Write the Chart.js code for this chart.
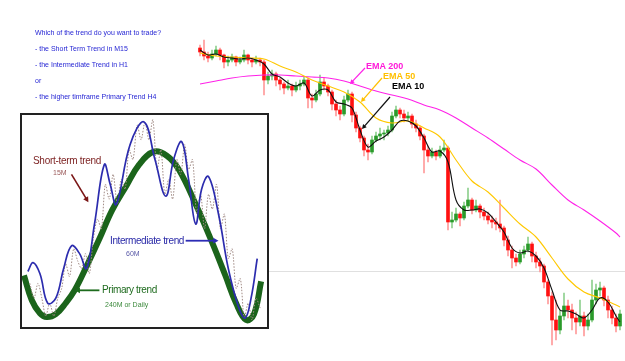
<!DOCTYPE html>
<html>
<head>
<meta charset="utf-8">
<script src="https://cdn.jsdelivr.net/npm/chart.js@4.4.1/dist/chart.umd.min.js"></script>
<style>
  html, body { margin: 0; padding: 0; background: #fff; }
  body { width: 625px; height: 361px; position: relative; overflow: hidden; font-family: "Liberation Sans", Arial, sans-serif; }
  #price { position: absolute; left: 0; top: 0; }
  #box { position: absolute; left: 20px; top: 113px; width: 245px; height: 212px; border: 2px solid #222; background: #fff; }
  .t { position: absolute; white-space: nowrap; line-height: 1; }
  .q { font-size: 7px; color: #2626d4; left: 35px; }
  .ema { font-size: 9px; font-weight: bold; }
</style>
</head>
<body>
<canvas id="price" width="625" height="361"></canvas>
<div id="box"><canvas id="waves" width="245" height="212"></canvas></div>

<!-- question text -->
<div class="t q" style="top:29px">Which of the trend do you want to trade?</div>
<div class="t q" style="top:45px">- the Short Term Trend in M15</div>
<div class="t q" style="top:61px">- the Intermediate Trend in H1</div>
<div class="t q" style="top:77px">or</div>
<div class="t q" style="top:93px">- the higher timframe Primary Trend H4</div>

<!-- EMA labels -->
<div class="t ema" style="left:366px;top:62px;color:#ff1ad9">EMA 200</div>
<div class="t ema" style="left:383px;top:72px;color:#ffc000">EMA 50</div>
<div class="t ema" style="left:392px;top:82px;color:#000">EMA 10</div>

<!-- diagram labels -->
<div class="t" style="left:33px;top:156px;font-size:10px;letter-spacing:-0.3px;color:#7b1f1f">Short-term trend</div>
<div class="t" style="left:53px;top:169px;font-size:7px;color:#9b5a5a">15M</div>
<div class="t" style="left:110px;top:236px;font-size:10px;letter-spacing:-0.4px;color:#2a2aa8">Intermediate trend</div>
<div class="t" style="left:126px;top:250px;font-size:7px;color:#5a5aa8">60M</div>
<div class="t" style="left:102px;top:285px;font-size:10px;letter-spacing:-0.4px;color:#1f6b1f">Primary trend</div>
<div class="t" style="left:105px;top:301px;font-size:7px;color:#3d8a3d">240M or Daily</div>

<script>
// ---- candles (price) ----
const openP = [1.2952,1.2948,1.2944,1.2942,1.2946,1.2950,1.2945,1.2938,1.2940,1.2943,
  1.2938,1.2940,1.2945,1.2940,1.2938,1.2940,1.2938,1.2920,1.2924,1.2926,
  1.2920,1.2916,1.2912,1.2914,1.2910,1.2914,1.2916,1.2920,1.2902,1.2900,
  1.2906,1.2918,1.2914,1.2908,1.2896,1.2890,1.2886,1.2900,1.2906,1.2885,
  1.2872,1.2862,1.2850,1.2848,1.2860,1.2864,1.2866,1.2867,1.2870,1.2884,
  1.2890,1.2886,1.2882,1.2884,1.2876,1.2872,1.2864,1.2850,1.2844,1.2848,
  1.2844,1.2850,1.2852,1.2778,1.2780,1.2786,1.2782,1.2794,1.2800,1.2790,
  1.2794,1.2788,1.2784,1.2780,1.2778,1.2776,1.2772,1.2760,1.2750,1.2742,
  1.2738,1.2746,1.2750,1.2756,1.2744,1.2738,1.2734,1.2718,1.2704,1.2680,
  1.2670,1.2684,1.2694,1.2690,1.2682,1.2678,1.2684,1.2674,1.2680,1.2700,
  1.2710,1.2712,1.2700,1.2690,1.2682,1.2674];
const highP = [1.2955,1.2960,1.2948,1.2950,1.2954,1.2952,1.2946,1.2944,1.2946,1.2944,
  1.2943,1.2950,1.2946,1.2942,1.2944,1.2942,1.2940,1.2928,1.2930,1.2928,
  1.2922,1.2918,1.2920,1.2916,1.2918,1.2920,1.2923,1.2922,1.2906,1.2910,
  1.2925,1.2922,1.2916,1.2910,1.2900,1.2894,1.2904,1.2910,1.2908,1.2888,
  1.2874,1.2864,1.2856,1.2864,1.2868,1.2872,1.2870,1.2874,1.2888,1.2894,
  1.2892,1.2890,1.2888,1.2886,1.2880,1.2874,1.2866,1.2854,1.2852,1.2850,
  1.2854,1.2860,1.2854,1.2788,1.2792,1.2788,1.2798,1.2812,1.2802,1.2800,
  1.2796,1.2792,1.2788,1.2784,1.2782,1.2800,1.2774,1.2764,1.2754,1.2746,
  1.2750,1.2754,1.2763,1.2758,1.2748,1.2742,1.2736,1.2720,1.2708,1.2700,
  1.2690,1.2707,1.2700,1.2696,1.2688,1.2700,1.2688,1.2686,1.2720,1.2716,
  1.2718,1.2714,1.2704,1.2694,1.2686,1.2690];
const lowP = [1.2944,1.2940,1.2938,1.2940,1.2944,1.2940,1.2932,1.2934,1.2938,1.2934,
  1.2936,1.2938,1.2936,1.2933,1.2936,1.2934,1.2905,1.2916,1.2920,1.2914,
  1.2910,1.2906,1.2910,1.2904,1.2908,1.2910,1.2914,1.2892,1.2892,1.2898,
  1.2904,1.2910,1.2904,1.2890,1.2884,1.2880,1.2884,1.2898,1.2878,1.2868,
  1.2858,1.2844,1.2840,1.2846,1.2858,1.2860,1.2860,1.2864,1.2868,1.2882,
  1.2882,1.2878,1.2880,1.2872,1.2868,1.2860,1.2827,1.2838,1.2842,1.2840,
  1.2842,1.2848,1.2770,1.2772,1.2778,1.2774,1.2780,1.2792,1.2786,1.2788,
  1.2782,1.2780,1.2776,1.2772,1.2770,1.2768,1.2754,1.2744,1.2732,1.2734,
  1.2736,1.2742,1.2748,1.2738,1.2732,1.2728,1.2712,1.2696,1.2655,1.2660,
  1.2666,1.2680,1.2682,1.2670,1.2666,1.2674,1.2664,1.2670,1.2678,1.2696,
  1.2704,1.2694,1.2682,1.2676,1.2668,1.2670];
const closeP = [1.2948,1.2944,1.2942,1.2946,1.2950,1.2945,1.2938,1.2940,1.2943,1.2938,
  1.2940,1.2945,1.2940,1.2938,1.2940,1.2938,1.2920,1.2924,1.2926,1.2920,
  1.2916,1.2912,1.2914,1.2910,1.2914,1.2916,1.2920,1.2902,1.2900,1.2906,
  1.2918,1.2914,1.2908,1.2896,1.2890,1.2886,1.2900,1.2906,1.2885,1.2872,
  1.2862,1.2850,1.2848,1.2860,1.2864,1.2866,1.2867,1.2870,1.2884,1.2890,
  1.2886,1.2882,1.2884,1.2876,1.2872,1.2864,1.2850,1.2844,1.2848,1.2844,
  1.2850,1.2852,1.2778,1.2780,1.2786,1.2782,1.2794,1.2800,1.2790,1.2794,
  1.2788,1.2784,1.2780,1.2778,1.2776,1.2772,1.2760,1.2750,1.2742,1.2738,
  1.2746,1.2750,1.2756,1.2744,1.2738,1.2734,1.2718,1.2704,1.2680,1.2670,
  1.2684,1.2694,1.2690,1.2682,1.2678,1.2684,1.2674,1.2680,1.2700,1.2710,
  1.2712,1.2700,1.2690,1.2682,1.2674,1.2686];

// ---- moving averages (bar index -> value) ----
const ema10Idx = [0,2,4,6,8,10,12,14,16,18,20,22,24,26,28,30,32,34,36,38,40,42,44,46,48,50,52,
  54,56,58,60,62,64,66,68,70,72,74,76,78,80,82,84,86,88,90,92,94,96,98,100,102,104,105];
const ema10 = [1.2950,1.2945,1.2946,1.2943,1.2942,1.2941,1.2942,1.2940,1.2936,1.2926,
  1.2923,1.2917,1.2914,1.2917,1.2904,1.2910,1.2910,1.2898,1.2896,1.2892,
  1.2870,1.2853,1.2859,1.2863,1.2870,1.2879,1.2879,1.2874,1.2862,1.2848,
  1.2849,1.2838,1.2800,1.2790,1.2790,1.2791,1.2787,1.2778,1.2768,1.2752,
  1.2747,1.2749,1.2744,1.2732,1.2710,1.2690,1.2689,1.2686,1.2682,1.2690,
  1.2702,1.2698,1.2684,1.2678];
const emaSlowIdx = [0,4,8,12,16,20,24,28,32,36,40,44,48,52,56,60,64,68,72,76,80,84,88,92,96,100,104,105];
const ema50 = [1.2947,1.2944,1.2943,1.2942,1.2941,1.2934,1.2928,1.2920,1.2914,1.2908,
  1.2898,1.2882,1.2877,1.2879,1.2872,1.2863,1.2840,1.2819,1.2808,1.2792,
  1.2776,1.2763,1.2742,1.2721,1.2708,1.2702,1.2695,1.2693];
const ema200 = [1.2916,1.2919,1.2922,1.2924,1.2925,1.2925,1.2924,1.2923,1.2922,1.2919,
  1.2914,1.2909,1.2905,1.2901,1.2895,1.2890,1.2882,1.2872,1.2862,1.2851,
  1.2840,1.2831,1.2815,1.2800,1.2790,1.2779,1.2767,1.2763];

// ---- diagram waves (time 0-100, level 0-100) ----
const primaryX = [0.8,4.0,7.3,10.1,13.8,17.8,21.5,26.3,31.6,36.8,42.5,47.8,53.8,59.1,64.0,70.9,77.3,83.0,87.4,91.5,94.7,97.6];
const primaryY = [24.3,12.6,6.5,4.7,6.1,11.2,17.3,28.5,41.6,55.1,66.4,76.6,82.7,80.8,74.3,57.9,40.7,24.3,11.2,3.3,6.1,21.5];
const interX = [2.4,4.5,7.3,10.5,13.8,17.0,20.2,23.5,26.3,29.6,33.6,36.0,38.5,44.1,49.8,54.3,58.7,61.9,65.2,68.0,70.9,73.3,76.1,80.2,84.2,88.3,91.1,93.5,96.0];
const interY = [26.2,30.4,25.2,11.2,13.6,27.6,38.3,34.6,27.6,48.6,76.6,67.3,57.9,86.0,96.7,78.9,61.7,79.0,87.4,69.6,48.6,65.0,71.0,53.3,27.6,9.8,4.2,13.6,32.2];
const shortX = [3.2,4.9,6.5,8.1,9.7,11.3,13.0,14.6,16.2,17.8,19.4,21.1,22.7,24.3,25.9,27.5,29.1,30.8,32.4,34.0,
  35.6,37.2,38.9,40.5,42.1,43.7,45.3,47.0,48.6,50.2,51.8,53.4,55.1,56.7,58.3,59.9,61.5,63.2,64.8,66.4,
  68.0,69.6,71.3,72.9,74.5,76.1,77.7,79.4,81.0,82.6,84.2,85.8,87.4,89.1,90.7,92.3,93.9,95.5,97.2];
const shortY = [20.6,13.6,20.6,13.6,5.1,11.2,5.1,13.6,18.2,29.9,23.8,36.9,31.3,27.6,34.6,25.2,41.6,50.9,46.3,67.3,
  60.3,72.0,57.9,69.6,65.0,83.6,79.0,95.3,88.3,96.7,88.3,97.7,74.3,83.6,62.6,69.6,60.3,79.0,72.0,86.0,
  74.3,79.0,53.3,62.6,46.3,62.6,55.6,67.3,46.3,53.3,32.2,36.9,18.2,22.9,4.2,11.2,3.3,13.6,8.9];

const UP = '#2a9a2a', DOWN = '#ff1010', UP_W = '#8fd08f', DOWN_W = '#ff9a9a';

// arrows + guide lines, drawn in data units through the chart scales
const arrowPlugin = {
  id: 'arrows',
  beforeDatasetsDraw(chart, args, opts) {
    const { ctx, scales: { x, y } } = chart;
    (opts.hlines || []).forEach(h => {
      const py = Math.round(y.getPixelForValue(h.y)) + 0.5;
      ctx.save();
      ctx.strokeStyle = h.color; ctx.lineWidth = 1;
      ctx.beginPath(); ctx.moveTo(x.getPixelForValue(h.from), py); ctx.lineTo(x.getPixelForValue(h.to), py); ctx.stroke();
      ctx.restore();
    });
  },
  afterDatasetsDraw(chart, args, opts) {
    const { ctx, scales: { x, y } } = chart;
    (opts.list || []).forEach(a => {
      const x1 = x.getPixelForValue(a.from[0]), y1 = y.getPixelForValue(a.from[1]);
      const x2 = x.getPixelForValue(a.to[0]), y2 = y.getPixelForValue(a.to[1]);
      const ang = Math.atan2(y2 - y1, x2 - x1), h = a.head || 5;
      ctx.save();
      ctx.strokeStyle = a.color; ctx.fillStyle = a.color; ctx.lineWidth = a.width || 1;
      ctx.beginPath(); ctx.moveTo(x1, y1);
      ctx.lineTo(x2 - Math.cos(ang) * h * 0.7, y2 - Math.sin(ang) * h * 0.7); ctx.stroke();
      ctx.beginPath(); ctx.moveTo(x2, y2);
      ctx.lineTo(x2 - h * Math.cos(ang - 0.5), y2 - h * Math.sin(ang - 0.5));
      ctx.lineTo(x2 - h * Math.cos(ang + 0.5), y2 - h * Math.sin(ang + 0.5));
      ctx.closePath(); ctx.fill();
      ctx.restore();
    });
  }
};

const pts = (xs, ys) => xs.map((v, i) => ({ x: v, y: ys[i] }));

// ---- price chart ----
new Chart(document.getElementById('price'), {
  type: 'bar',
  data: {
    datasets: [
      { type: 'line', label: 'EMA 10', data: pts(ema10Idx, ema10), borderColor: '#111', borderWidth: 1.1, pointRadius: 0, tension: 0.35, order: 0 },
      { type: 'line', label: 'EMA 50', data: pts(emaSlowIdx, ema50), borderColor: '#ffc800', borderWidth: 1.1, pointRadius: 0, tension: 0.35, order: 0 },
      { type: 'line', label: 'EMA 200', data: pts(emaSlowIdx, ema200), borderColor: '#ff22e8', borderWidth: 1.1, pointRadius: 0, tension: 0.35, order: 0 },
      { label: 'body', data: openP.map((o, i) => ({ x: i, y: [o, closeP[i]] })), barThickness: 3, minBarLength: 1, grouped: false, order: 1,
        backgroundColor: c => closeP[c.dataIndex] > openP[c.dataIndex] ? UP : DOWN },
      { label: 'wick', data: lowP.map((l, i) => ({ x: i, y: [l, highP[i]] })), barThickness: 1, grouped: false, order: 2,
        backgroundColor: c => closeP[c.dataIndex] > openP[c.dataIndex] ? UP_W : DOWN_W }
    ]
  },
  options: {
    responsive: false, animation: false, events: [],
    layout: { padding: 0 },
    plugins: {
      legend: { display: false }, tooltip: { enabled: false },
      arrows: {
        hlines: [{ y: 1.2729, from: 17, to: 106.25, color: '#e0e0e0' }],
        list: [
          { from: [41.25, 1.2932], to: [37.5, 1.2916], color: '#ff22e8', width: 1.2 },
          { from: [45.5, 1.2922], to: [40.25, 1.2898], color: '#ffc000', width: 1.2 },
          { from: [47.5, 1.2903], to: [40.5, 1.2871], color: '#111', width: 1.2 }
        ]
      }
    },
    scales: {
      x: { type: 'linear', min: -50, max: 106.25, offset: false, display: false },
      y: { min: 1.2639, max: 1.3000, display: false }
    }
  },
  plugins: [arrowPlugin]
});

// ---- trend diagram ----
new Chart(document.getElementById('waves'), {
  type: 'line',
  data: {
    datasets: [
      { label: 'Short-term trend', data: pts(shortX, shortY), borderColor: '#a08a84', borderWidth: 1, borderDash: [1.5, 1.5], pointRadius: 0, tension: 0.3, order: 1 },
      { label: 'Intermediate trend', data: pts(interX, interY), borderColor: '#2c2cae', borderWidth: 1.7, pointRadius: 0, tension: 0.4, order: 0 },
      { label: 'Primary trend', data: pts(primaryX, primaryY), borderColor: '#1b641b', borderWidth: 6, pointRadius: 0, tension: 0.4, order: 2, clip: false }
    ]
  },
  options: {
    responsive: false, animation: false, events: [],
    layout: { padding: 0 },
    plugins: {
      legend: { display: false }, tooltip: { enabled: false },
      arrows: {
        list: [
          { from: [20.2, 72.0], to: [27.1, 58.9], color: '#7a1515', width: 1.6, head: 6 },
          { from: [66.8, 40.7], to: [80.2, 40.7], color: '#2c2cb5', width: 1.8, head: 6 },
          { from: [31.6, 17.3], to: [21.5, 17.3], color: '#1d6b1d', width: 1.8, head: 6 }
        ]
      }
    },
    scales: {
      x: { type: 'linear', min: 0, max: 100, display: false },
      y: { min: 0, max: 100, display: false }
    }
  },
  plugins: [arrowPlugin]
});
</script>
</body>
</html>
